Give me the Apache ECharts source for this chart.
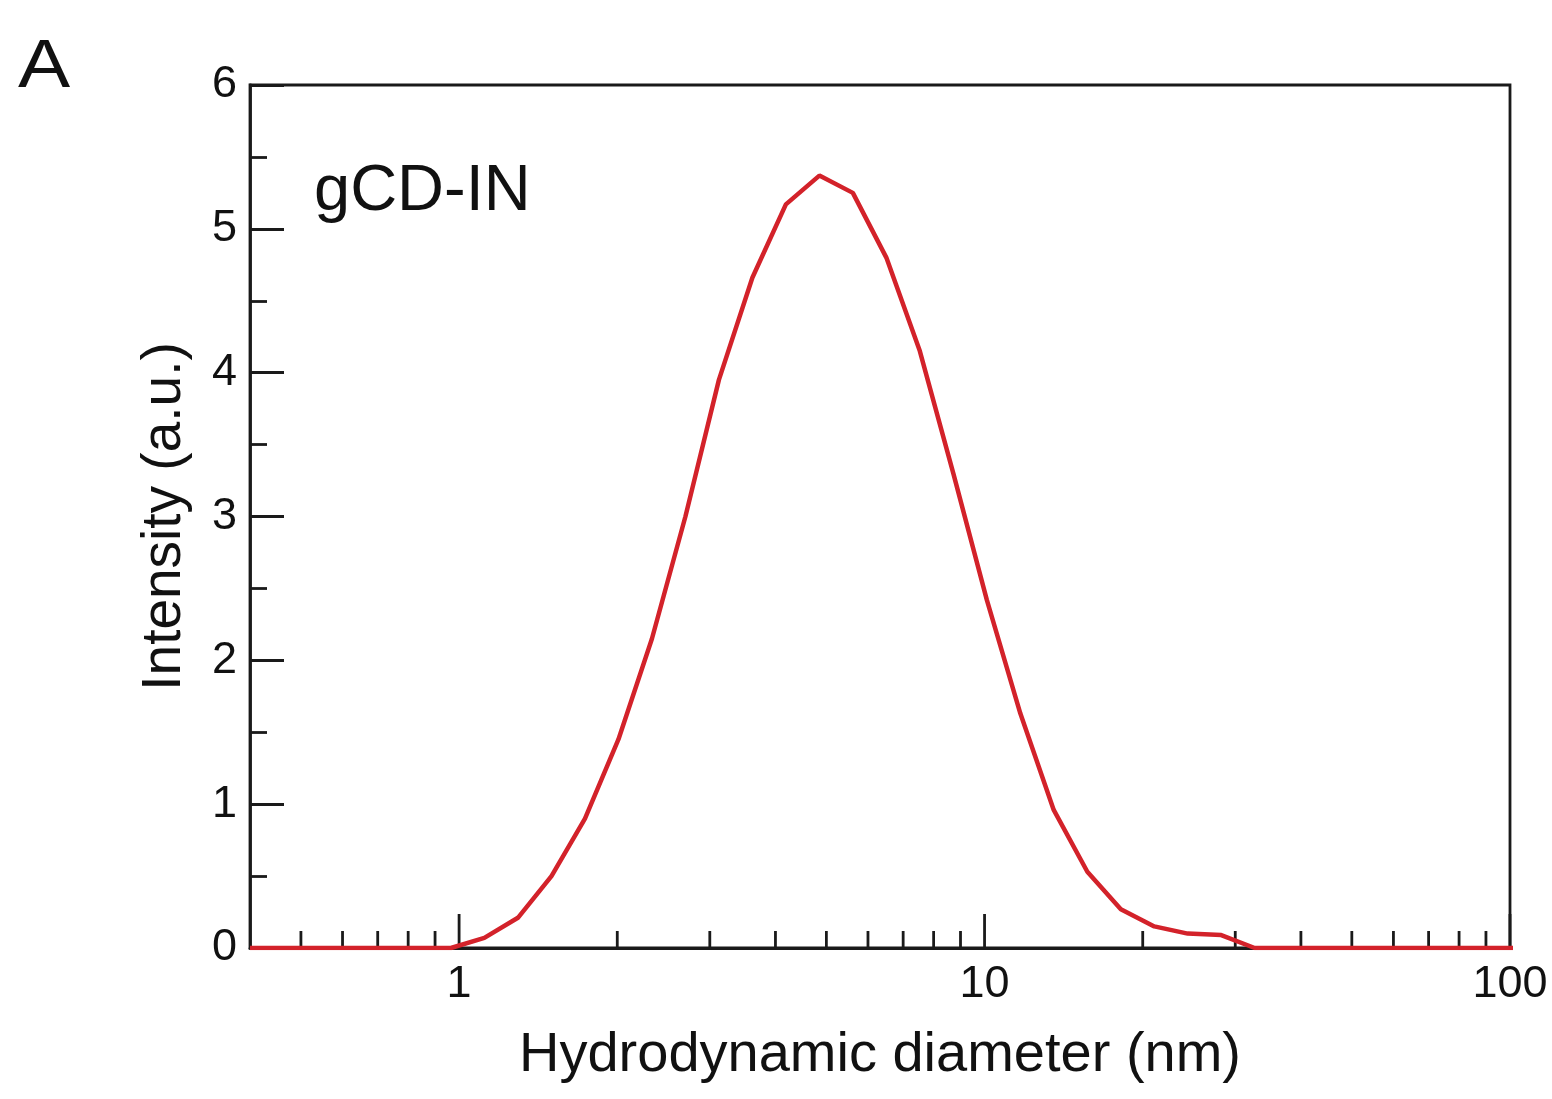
<!DOCTYPE html>
<html>
<head>
<meta charset="utf-8">
<script src="https://cdn.jsdelivr.net/npm/echarts@6/dist/echarts.min.js"></script>
<style>
  html, body { margin: 0; padding: 0; background: #fff; }
  #chart { width: 1552px; height: 1099px; }
</style>
</head>
<body>
<div id="chart"></div>
<script>
// size bins (nm) and intensity
const diameters = [0.4, 0.4632, 0.5365, 0.6213, 0.7195, 0.8332, 0.9649, 1.117, 1.294, 1.499,
  1.736, 2.010, 2.328, 2.696, 3.122, 3.615, 4.187, 4.849, 5.615, 6.503, 7.531, 8.721,
  10.10, 11.70, 13.54, 15.69, 18.17, 21.04, 24.36, 28.21, 32.67, 37.84, 43.82, 50.75,
  58.77, 68.06, 78.82, 91.28, 105.7]
const intensity = [0, 0, 0, 0, 0, 0, 0, 0.07, 0.21, 0.5,
  0.9, 1.45, 2.15, 3.0, 3.95, 4.66, 5.17, 5.37, 5.25, 4.8, 4.15, 3.3,
  2.42, 1.63, 0.96, 0.53, 0.27, 0.15, 0.1, 0.09, 0, 0, 0, 0,
  0, 0, 0, 0, 0]

const majorTicksX = [1, 10, 100]
const minorTicksX = [0.5, 0.6, 0.7, 0.8, 0.9, 2, 3, 4, 5, 6, 7, 8, 9, 20, 30, 40, 50, 60, 70, 80, 90]

const FONT = '"Liberation Sans", Arial, sans-serif'
const INK = '#1a1a1a'

const chart = echarts.init(document.getElementById('chart'))

// x ticks drawn by hand so minor ticks land on 2..9 of each decade
function tickSeries(values, len) {
  return {
    type: 'custom',
    silent: true,
    clip: false,
    data: values.map(v => [v, 0]),
    renderItem: (params, api) => {
      const p = api.coord([api.value(0), 0])
      return {
        type: 'line',
        shape: { x1: p[0], y1: p[1], x2: p[0], y2: p[1] - len },
        style: { stroke: INK, lineWidth: 2.8 }
      }
    },
    z: 1
  }
}

chart.setOption({
  animation: false,
  backgroundColor: '#fff',
  textStyle: { fontFamily: FONT },
  grid: {
    left: 250, right: 42, top: 85, bottom: 151,
    show: true, borderColor: INK, borderWidth: 2.8
  },
  xAxis: {
    type: 'log',
    logBase: 10,
    min: 0.4,
    max: 100,
    name: 'Hydrodynamic diameter (nm)',
    nameLocation: 'middle',
    nameGap: 80,
    nameTextStyle: { fontSize: 56, color: '#111', fontFamily: FONT },
    axisLine: { lineStyle: { color: INK, width: 2.8 } },
    axisTick: { show: false },
    splitLine: { show: false },
    axisLabel: {
      fontSize: 45,
      lineHeight: 45,
      color: '#111',
      margin: 14,
      fontFamily: FONT,
      formatter: v => {
        const l = Math.log10(v)
        return Math.abs(l - Math.round(l)) < 1e-6 && v >= 1 ? String(Math.round(v)) : ''
      }
    }
  },
  yAxis: {
    type: 'value',
    min: 0,
    max: 6,
    interval: 1,
    name: 'Intensity (a.u.)',
    nameLocation: 'middle',
    nameGap: 58,
    nameRotate: 90,
    nameTextStyle: { fontSize: 55, color: '#111', fontFamily: FONT },
    axisLine: { show: true, lineStyle: { color: INK, width: 2.8 } },
    axisTick: { show: true, inside: true, length: 34, lineStyle: { color: INK, width: 2.8 } },
    minorTick: { show: true, splitNumber: 2, length: 17, lineStyle: { color: INK, width: 2.8 } },
    splitLine: { show: false },
    axisLabel: { fontSize: 45, color: '#111', margin: 13, fontFamily: FONT }
  },
  graphic: [
    {
      type: 'text', left: 18, top: 34, scaleX: 1.15,
      style: { text: 'A', fontSize: 68, fill: '#111', fontFamily: FONT }
    },
    {
      type: 'text', left: 314, top: 160,
      style: { text: 'gCD-IN', fontSize: 65, fill: '#111', fontFamily: FONT }
    }
  ],
  series: [
    tickSeries(majorTicksX, 34),
    tickSeries(minorTicksX, 17),
    {
      type: 'line',
      data: diameters.map((d, i) => [d, intensity[i]]),
      showSymbol: false,
      smooth: false,
      clip: true,
      lineStyle: { color: '#d3222a', width: 4.5 },
      z: 3
    }
  ]
})

window.addEventListener('resize', () => chart.resize())
</script>
</body>
</html>
